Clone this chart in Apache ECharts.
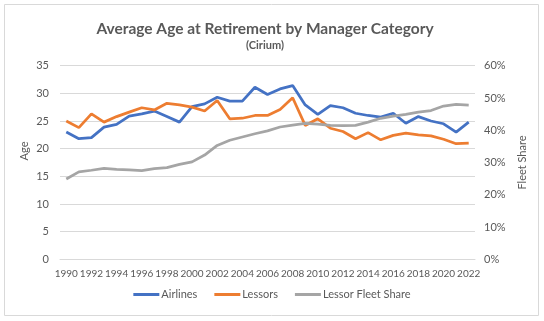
<!DOCTYPE html>
<html>
<head>
<meta charset="utf-8">
<script src="https://cdn.jsdelivr.net/npm/echarts@6/dist/echarts.min.js"></script>
<style>html,body{margin:0;padding:0;background:#fff;}#c{width:544px;height:321px;}</style>
</head>
<body>
<div id="c"></div>
<script>
const years = ['1990','1991','1992','1993','1994','1995','1996','1997','1998','1999','2000','2001','2002','2003','2004','2005','2006','2007','2008','2009','2010','2011','2012','2013','2014','2015','2016','2017','2018','2019','2020','2021','2022'];
const airlines = [23.0,21.8,22.0,23.9,24.4,25.9,26.3,26.8,25.8,24.8,27.6,28.1,29.3,28.6,28.6,31.1,29.8,30.8,31.4,27.9,26.2,27.8,27.4,26.4,26.0,25.7,26.4,24.6,25.8,25.0,24.5,23.0,24.8];
const lessors = [25.0,23.8,26.3,24.8,25.8,26.6,27.4,27.0,28.2,27.9,27.5,26.8,28.7,25.4,25.5,26.0,26.0,27.1,29.2,24.2,25.4,23.7,23.1,21.8,22.9,21.6,22.4,22.8,22.5,22.3,21.7,20.9,21.0];
const fleetShare = [24.9,27.1,27.6,28.2,27.9,27.7,27.5,28.1,28.4,29.4,30.2,32.3,35.3,36.9,37.9,38.9,39.8,41.0,41.6,42.1,41.9,41.5,41.4,41.5,42.5,43.7,44.4,44.9,45.6,46.1,47.5,48.0,47.8];
const ageTicks = [0,5,10,15,20,25,30,35];
const shareTicks = [0,10,20,30,40,50,60];

const font = 'Lato';
const txt = '#595959';
const chart = echarts.init(document.getElementById('c'));
chart.setOption({
  animation: false,
  textStyle: {fontFamily: font, color: txt},
  title: {
    text: 'Average Age at Retirement by Manager Category',
    subtext: '(Cirium)',
    left: 260, textAlign: 'center', top: 16, itemGap: 3,
    textStyle: {fontFamily: font, fontSize: 15.5, fontWeight: 'bold', color: txt},
    subtextStyle: {fontFamily: font, fontSize: 11, fontWeight: 'bold', color: txt}
  },
  graphic: [
    {type: 'rect', shape: {x: 4.5, y: 4.5, width: 534, height: 311}, style: {fill: 'none', stroke: '#D9D9D9', lineWidth: 1}, silent: true},
    {type: 'text', x: 24, y: 151, rotation: Math.PI/2, style: {text: 'Age', fontFamily: font, fontSize: 11, fill: txt, align: 'center', verticalAlign: 'middle'}}
  ],
  legend: {
    bottom: 16, left: 'center', itemWidth: 26, itemHeight: 3, itemGap: 17,
    icon: 'rect',
    textStyle: {fontFamily: font, fontSize: 11, color: txt, padding: [0,0,0,-3]},
    data: ['Airlines','Lessors','Lessor Fleet Share']
  },
  grid: {left: 60, right: 69, top: 65.7, bottom: 61.7},
  xAxis: {
    type: 'category', data: years, boundaryGap: true,
    axisLine: {lineStyle: {color: '#D9D9D9'}},
    axisTick: {show: false},
    axisLabel: {interval: 1, fontSize: 10, color: txt, margin: 9, hideOverlap: false, showMinLabel: true, showMaxLabel: true}
  },
  yAxis: [
    {type: 'value', min: ageTicks[0], max: ageTicks[ageTicks.length-1], interval: 5,
     axisLine: {show: false}, axisTick: {show: false},
     axisLabel: {fontSize: 11, color: txt, margin: 11},
     splitLine: {lineStyle: {color: '#D9D9D9'}}},
    {type: 'value', min: shareTicks[0], max: shareTicks[shareTicks.length-1], interval: 10,
     position: 'right',
     name: 'Fleet Share', nameLocation: 'middle', nameGap: 39, nameRotate: 90,
     nameTextStyle: {fontSize: 11, color: txt},
     axisLine: {show: false}, axisTick: {show: false},
     axisLabel: {fontSize: 11, color: txt, margin: 9, formatter: '{value}%'},
     splitLine: {show: false}}
  ],
  series: [
    {name: 'Airlines', type: 'line', data: airlines, yAxisIndex: 0, symbol: 'none', lineStyle: {width: 2.75, color: '#4472C4'}, itemStyle: {color: '#4472C4'}},
    {name: 'Lessors', type: 'line', data: lessors, yAxisIndex: 0, symbol: 'none', lineStyle: {width: 2.75, color: '#ED7D31'}, itemStyle: {color: '#ED7D31'}},
    {name: 'Lessor Fleet Share', type: 'line', data: fleetShare, yAxisIndex: 1, symbol: 'none', lineStyle: {width: 2.75, color: '#A5A5A5'}, itemStyle: {color: '#A5A5A5'}}
  ]
});
</script>
</body>
</html>
